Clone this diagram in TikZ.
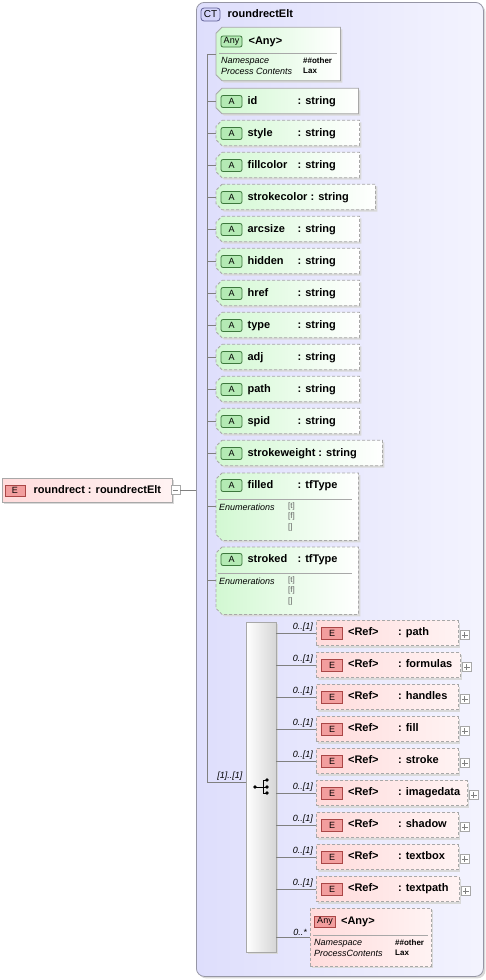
\documentclass[tikz,border=0pt]{standalone}
\usepackage{fontspec}
\setmainfont{Liberation Sans}
\usetikzlibrary{positioning,shadows}

\definecolor{ctback}{RGB}{222,222,252}
\definecolor{ctedge}{RGB}{150,150,165}
\definecolor{boxedge}{RGB}{168,168,168}
\definecolor{attrgreen}{RGB}{210,248,210}
\definecolor{refpink}{RGB}{255,220,220}
\definecolor{iconred}{RGB}{242,158,158}
\definecolor{iconredline}{RGB}{170,70,70}
\definecolor{icongreen}{RGB}{180,234,180}
\definecolor{icongreenline}{RGB}{60,120,60}
\definecolor{iconblue}{RGB}{212,212,250}
\definecolor{iconblueline}{RGB}{96,96,150}
\definecolor{wiregray}{RGB}{128,128,128}
\definecolor{enumgray}{RGB}{96,96,96}
\definecolor{seqdark}{RGB}{214,214,214}

% chamfered outline round an empty box node
\newcommand\chamfer[2]{%
  \path[#2] ([xshift=6pt]#1.north west) -- (#1.north east) -- (#1.south east)
    -- ([xshift=6pt]#1.south west) -- ([yshift=6pt]#1.south west)
    -- ([yshift=-6pt]#1.north west) -- cycle ;}
% name column, 50pt wide unless the name is longer
\newcommand\ncol[1]{\setbox0\hbox{#1\ }%
  \ifdim\wd0<50pt \hbox to 50pt{#1\hfil}\else\box0\fi}

\begin{document}
\begin{tikzpicture}[x=1pt,y=-1pt,
    font=\fontsize{11}{13}\selectfont\bfseries,
    txt/.style={inner sep=0pt, text height=8pt, text depth=2.5pt, anchor=west},
    card/.style={inner sep=0pt, font=\fontsize{9}{10}\selectfont\itshape, anchor=south east},
    note/.style={inner sep=0pt, anchor=west, font=\fontsize{9}{10}\selectfont\itshape},
    noteval/.style={inner sep=0pt, anchor=west, font=\fontsize{8}{10}\selectfont\bfseries},
    enumval/.style={inner sep=0pt, anchor=west, text=enumgray, font=\fontsize{8}{10}\selectfont},
    conn/.style={draw=wiregray, line width=0.8pt},
    sepline/.style={draw=boxedge, line width=0.8pt},
    boxshadow/.style={drop shadow={shadow xshift=2pt, shadow yshift=-2pt, fill=black!15, opacity=1}},
    boxbase/.style={inner sep=0pt, minimum height=25pt, anchor=west},
    attrfill/.style={draw=boxedge, line width=0.8pt, left color=attrgreen, right color=white, boxshadow},
    optional/.style={dash pattern=on 3pt off 2pt},
    refbox/.style={boxbase, draw=boxedge, line width=0.8pt, left color=refpink, right color=refpink!35!white, boxshadow},
    icon/.style={inner sep=0pt, line width=0.8pt, font=\fontsize{9}{10}\selectfont, minimum width=21pt, minimum height=12pt},
    aicon/.style={icon, draw=icongreenline, fill=icongreen, rounded corners=2pt},
    eicon/.style={icon, draw=iconredline, fill=iconred},
    toggle/.style={draw=boxedge, fill=white, line width=0.6pt, minimum size=9pt, inner sep=0pt}]
  \useasboundingbox (0,0) rectangle (486,980);
  % complex type frame
  \node[draw=ctedge, line width=0.8pt, rounded corners=8pt, left color=ctback, right color=ctback!35!white,
    boxshadow, inner sep=0pt, minimum width=287pt, minimum height=974pt, anchor=north west] (ct) at (196,2) {};
  \node[icon, draw=iconblueline, fill=iconblue, rounded corners=3pt, minimum width=19pt, minimum height=13pt,
    font=\fontsize{10}{11}\selectfont] (ct-i) at (210.5,14.5) {CT};
  \node[txt, right=7pt of ct-i] (ct-t) {roundrectElt};

  % the element
  \node[refbox, minimum width=170pt, minimum height=24pt] (el) at (2,490) {};
  \node[eicon, minimum width=20pt, minimum height=11pt] (el-i) at (15,490.5) {E};
  \node[txt, right=8pt of el-i] (el-t) {roundrect : roundrectElt};
  \node[toggle] (el-m) at (175.5,490) {};
  \draw[conn] ([xshift=2pt]el-m.west) -- ([xshift=-2pt]el-m.east);
  \draw[conn] (el-m.east) -- (el-m.east -| ct.west);

  % trunk
  \coordinate (trunk-top) at (207,54);
  \coordinate (trunk-bot) at (207,782);
  \draw[conn] (trunk-top) -- (trunk-bot);

  % any attribute
  \node[boxbase, minimum width=124pt, minimum height=53pt] (any-a) at (216,54) {};
  \chamfer{any-a}{attrfill}
  \node[aicon, minimum height=11pt] (any-a-i) at (231.5,41.5) {Any};
  \node[txt, right=6pt of any-a-i] (any-a-t) {<Any>};
  \draw[sepline] (219,53) -- (337,53);
  \node[note] (any-a-n1) at (221,61) {Namespace};
  \node[note] (any-a-n2) at (221,71) {Process Contents};
  \node[noteval] (any-a-v1) at (303,61) {\#\#other};
  \node[noteval] (any-a-v2) at (303,71) {Lax};
  \draw[conn] (trunk-top) -- (any-a.west);

  % attributes
  \foreach \nm/\yy/\w/\ls in {id/101/142/solid, style/133/143/optional, fillcolor/165/143/optional,
      strokecolor/197/159/optional, arcsize/229/143/optional, hidden/261/143/optional,
      href/293/143/optional, type/325/143/optional, adj/357/143/optional, path/389/143/optional,
      spid/421/143/optional, strokeweight/453/166/optional} {
    \node[boxbase, minimum width=\w pt] (a-\nm) at (216,\yy) {};
    \chamfer{a-\nm}{attrfill, \ls}
    \node[aicon] (a-\nm-i) at (231.5,\yy+0.5) {A};
    \node[txt, right=5pt of a-\nm-i] (a-\nm-t) {\ncol{\nm}: string};
    \draw[conn] (a-\nm.west -| trunk-top) -- (a-\nm.west);
  }
  \foreach \nm/\yy in {filled/473, stroked/547} {
    \node[boxbase, anchor=north west, minimum width=142pt, minimum height=67pt] (a-\nm) at (216,\yy) {};
    \chamfer{a-\nm}{attrfill, optional}
    \node[aicon] (a-\nm-i) at (231.5,\yy+12.5) {A};
    \node[txt, right=5pt of a-\nm-i] (a-\nm-t) {\ncol{\nm}: tfType};
    \draw[sepline] (218,\yy+26) -- (352,\yy+26);
    \node[note] (a-\nm-e) at (219,\yy+34) {Enumerations};
    \node[enumval] (a-\nm-e1) at (288,\yy+33) {[t]};
    \node[enumval] (a-\nm-e2) at (288,\yy+43) {[f]};
    \node[enumval] (a-\nm-e3) at (288,\yy+54) {[]};
    \draw[conn] (a-\nm.west -| trunk-top) -- (a-\nm.west);
  }

  % sequence
  \node[draw=boxedge, line width=0.8pt, left color=white, right color=seqdark, boxshadow, inner sep=0pt,
    minimum width=30pt, minimum height=330pt] (seq) at (261,787) {};
  \begin{scope}[shift={(seq.center)}]
    \draw[line width=0.9pt] (-6,0) -- (2,0) (2,-7) -- (2,6) (2,-7) -- (6,-7) (2,6) -- (6,6) (2,0) -- (6,0);
    \fill (-6,0) circle (1.8pt) (6,-7) circle (1.8pt) (6,0) circle (1.8pt) (6,6) circle (1.8pt);
  \end{scope}
  \coordinate (seq-in) at (trunk-bot -| seq.west);
  \draw[conn] (trunk-bot) -- (seq-in);
  \node[card] (seq-c) at ([xshift=-3pt,yshift=1.5pt]seq-in) {[1]..[1]};

  % references
  \foreach \nm/\yy/\w in {path/633/142, formulas/665/144, handles/697/142, fill/729/142, stroke/761/142,
      imagedata/793/151, shadow/825/142, textbox/857/142, textpath/889/143} {
    \node[refbox, optional, minimum width=\w pt] (r-\nm) at (316,\yy) {};
    \node[eicon] (r-\nm-i) at (332,\yy) {E};
    \node[txt, right=5pt of r-\nm-i] (r-\nm-t) {\ncol{<Ref>}: \nm};
    \node[toggle] (r-\nm-p) at ([xshift=6pt,yshift=-2pt]r-\nm.east) {};
    \draw[conn] ([xshift=2pt]r-\nm-p.west) -- ([xshift=-2pt]r-\nm-p.east)
      ([yshift=2pt]r-\nm-p.south) -- ([yshift=-2pt]r-\nm-p.north);
    \draw[conn] (r-\nm.west -| seq.east) -- (r-\nm.west);
    \node[card] (r-\nm-c) at ([xshift=-3pt,yshift=1.5pt]r-\nm.west) {0..[1]};
  }

  % any element
  \node[refbox, optional, minimum width=121pt, minimum height=58pt] (any-b) at (310,937) {};
  \node[eicon, minimum height=11pt] (any-b-i) at (325,921.5) {Any};
  \node[txt, right=5pt of any-b-i] (any-b-t) {<Any>};
  \draw[sepline] (313,935) -- (428,935);
  \node[note] (any-b-n1) at (314,943) {Namespace};
  \node[note] (any-b-n2) at (314,953) {ProcessContents};
  \node[noteval] (any-b-v1) at (395,943) {\#\#other};
  \node[noteval] (any-b-v2) at (395,953) {Lax};
  \draw[conn] (any-b.west -| seq.east) -- (any-b.west);
  \node[card] (any-b-c) at ([xshift=-3pt,yshift=1.5pt]any-b.west) {0..*};
\end{tikzpicture}
\end{document}
